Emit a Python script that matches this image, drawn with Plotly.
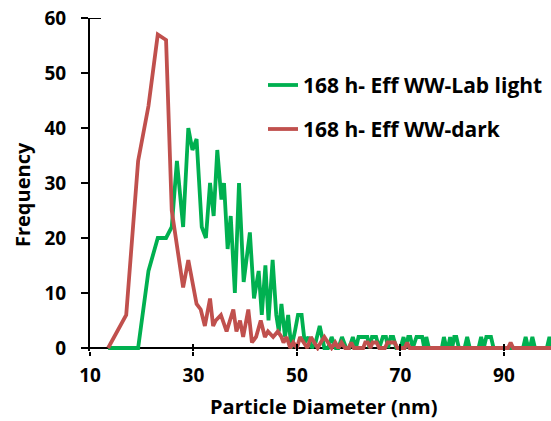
import plotly.graph_objects as go

# ---------------- data ----------------
series_names = ["168 h- Eff WW-Lab light", "168 h- Eff WW-dark"]

green_x = [13.5, 17.0, 19.3, 21.3, 23.1, 24.7, 25.8, 26.8, 28.0, 29.0, 29.8, 30.6, 31.6, 32.4,
           33.2, 33.9, 34.6, 35.4, 35.9, 36.6, 37.2, 38.0, 38.8, 39.7, 40.9, 41.7, 42.6, 43.2,
           43.9, 44.5, 45.3, 46.0, 46.5, 47.0, 47.7, 48.3, 48.9, 49.6, 50.2, 50.9, 51.5, 52.2,
           52.9, 53.6, 54.4, 55.3, 56.0, 56.7, 57.5, 58.0, 58.7, 59.5, 60.1, 60.8, 61.4, 61.9,
           62.7, 63.6, 64.0, 64.5, 65.3, 65.9, 66.6, 67.2, 67.6, 68.1, 68.6, 69.2, 70.0, 70.6,
           71.0, 71.5, 71.9, 72.4, 73.1, 73.6, 74.2, 74.6, 75.0, 75.5, 78.0, 78.4, 78.9, 79.2,
           79.6, 80.0, 80.4, 80.8, 81.3, 82.4, 82.9, 83.4, 85.1, 85.6, 86.1, 86.6, 87.1, 87.5,
           88.0, 93.7, 94.2, 94.7, 95.0, 95.5, 96.0, 98.3, 98.8, 99.3, 100.0]
green_y = [0, 0, 0, 14, 20, 20, 22, 34, 22, 40, 36, 38, 22, 20,
           30, 24, 36, 27, 30, 18, 24, 10, 30, 12, 21, 9, 14, 6,
           15, 5, 16, 6, 3, 8, 2, 6, 0, 3, 6, 6, 1, 2,
           0, 1, 4, 0, 0, 2, 0, 0, 2, 0, 0, 2, 0, 2,
           2, 2, 0, 2, 2, 0, 2, 2, 0, 2, 2, 0, 0, 2,
           0, 2, 2, 0, 2, 2, 2, 0, 2, 0, 0, 2, 0, 0,
           2, 0, 2, 2, 0, 0, 2, 0, 0, 2, 0, 2, 2, 2,
           0, 0, 2, 0, 0, 2, 0, 0, 2, 0, 0]

red_x = [13.5, 17.0, 19.3, 21.3, 23.1, 24.7, 25.8, 28.0, 29.0, 30.6, 31.4, 32.2, 33.2, 33.8,
         34.3, 35.3, 36.4, 37.7, 38.3, 39.0, 39.6, 40.6, 41.3, 42.1, 43.0, 43.8, 44.4, 45.4,
         46.3, 47.0, 47.4, 48.0, 48.7, 49.3, 50.0, 50.6, 51.3, 52.0, 52.7, 53.3, 54.0, 54.6,
         55.3, 56.0, 56.7, 57.4, 58.0, 58.6, 59.3, 60.0, 60.5, 61.0, 62.8, 63.2, 63.7, 64.2,
         64.6, 65.4, 65.9, 67.0, 67.5, 68.2, 68.9, 69.4, 70.8, 71.3, 71.8, 90.8, 91.3, 91.8, 100.0]
red_y = [0, 6, 34, 44, 57, 56, 25, 11, 16, 8, 7, 4, 9, 4,
         5, 6, 3, 7, 3, 5, 2, 7, 1, 2, 5, 2, 3, 2,
         3, 2, 1, 2, 0, 1, 0, 2, 1, 0, 2, 1, 0, 1,
         2, 1, 0, 1, 0, 1, 0, 0, 1, 0, 0, 1, 1, 0,
         1, 1, 0, 0, 1, 1, 1, 0, 0, 1, 0, 0, 1, 0, 0]

x_ticks = [10, 30, 50, 70, 90]
y_ticks = [0, 10, 20, 30, 40, 50, 60]

GREEN = "#00B050"
RED = "#C0504D"
FONT = "Open Sans"

# ---------------- figure ----------------
fig = go.Figure()
fig.add_trace(go.Scatter(x=green_x, y=green_y, mode="lines", name=series_names[0],
                         line=dict(color=GREEN, width=3.8), showlegend=False))
fig.add_trace(go.Scatter(x=red_x, y=red_y, mode="lines", name=series_names[1],
                         line=dict(color=RED, width=3.8), showlegend=False))

L, T, W, H = 90, 18, 461, 333


def pxx(p):
    return (p - L) / W


def pxy(p):
    return (T + H - p) / H


tickfont = dict(family=FONT, size=19, color="black", weight="bold")
textfont = dict(family=FONT, size=20, color="black", weight="bold")
legfont = dict(family=FONT, size=21, color="black", weight="bold")

fig.update_layout(
    width=551, height=421,
    margin=dict(l=L, r=0, t=T, b=421 - T - H, pad=0),
    paper_bgcolor="white", plot_bgcolor="white",
    font=dict(family=FONT, color="black"),
    xaxis=dict(range=[10, 99.1], tickvals=x_ticks, ticks="outside", ticklen=4, tickwidth=2,
               tickcolor="black", showline=False, showgrid=False, zeroline=False,
               tickfont=tickfont, ticklabelstandoff=3),
    xaxis2=dict(range=[10, 99.1], tickvals=x_ticks, ticks="inside", ticklen=7, tickwidth=2,
                tickcolor="black", showticklabels=False, showline=False, showgrid=False,
                zeroline=False, overlaying="x", side="bottom", anchor="y"),
    yaxis=dict(range=[-0.55, 60], tickvals=y_ticks, ticks="outside", ticklen=7, tickwidth=2,
               tickcolor="black", showline=True, linewidth=2, linecolor="black",
               showgrid=False, zeroline=True, zerolinecolor="black", zerolinewidth=2,
               tickfont=tickfont, ticklabelstandoff=11),
)
# dummy trace to activate xaxis2
fig.add_trace(go.Scatter(x=[None], y=[None], xaxis="x2", showlegend=False, hoverinfo="skip"))

# small line at top of y axis (as in original)
fig.add_shape(type="line", xref="paper", yref="y", x0=pxx(90), x1=pxx(101), y0=60, y1=60,
              line=dict(color="black", width=2))

# axis titles
fig.add_annotation(text="Particle Diameter (nm)", xref="paper", yref="paper",
                   x=pxx(323), y=pxy(406), showarrow=False, xanchor="center", yanchor="middle",
                   font=textfont)
fig.add_annotation(text="Frequency", xref="paper", yref="paper", textangle=-90,
                   x=pxx(22), y=pxy(195), showarrow=False, xanchor="center", yanchor="middle",
                   font=textfont)

# custom legend
for name, color, ypx in [(series_names[0], GREEN, 85), (series_names[1], RED, 129)]:
    fig.add_shape(type="line", xref="paper", yref="paper", x0=pxx(268), x1=pxx(298),
                  y0=pxy(ypx), y1=pxy(ypx), line=dict(color=color, width=3.8))
    fig.add_annotation(text=name, xref="paper", yref="paper", x=pxx(301), y=pxy(ypx),
                       showarrow=False, xanchor="left", yanchor="middle",
                       font=legfont)

fig.write_html("out.html")
